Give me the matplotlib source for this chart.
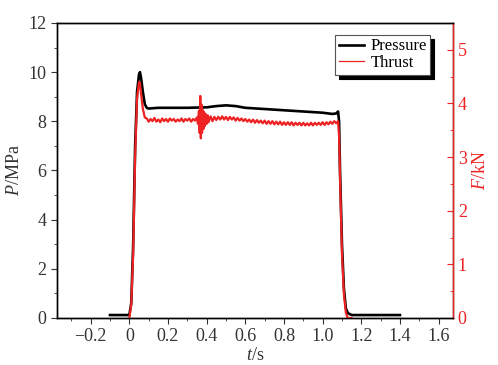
import numpy as np
import matplotlib
matplotlib.use('Agg')
import matplotlib.pyplot as plt

plt.rcParams['font.family'] = 'Liberation Serif'
plt.rcParams['mathtext.fontset'] = 'custom'
plt.rcParams['mathtext.rm'] = 'Liberation Serif'
plt.rcParams['mathtext.it'] = 'Liberation Serif:italic'

# chamber pressure, MPa
t_p = [-0.1, 0.0, 0.01, 0.02, 0.03, 0.04, 0.05, 0.055, 0.06, 0.07, 0.08, 0.09, 0.1,
       0.15, 0.2, 0.3, 0.4, 0.45, 0.5, 0.55, 0.6, 0.7, 0.8, 0.9, 1.0, 1.05, 1.07,
       1.08, 1.085, 1.09, 1.1, 1.11, 1.12, 1.13, 1.15, 1.4]
pressure = [0.12, 0.12, 0.6, 3.0, 7.0, 9.2, 9.9, 10.0, 9.8, 9.2, 8.7, 8.55, 8.52,
            8.55, 8.55, 8.55, 8.57, 8.62, 8.65, 8.62, 8.55, 8.5, 8.45, 8.4, 8.35, 8.3, 8.32,
            8.4, 8.0, 6.0, 3.0, 1.2, 0.4, 0.2, 0.12, 0.12]

# thrust, kN
t_f = [0.0, 0.01, 0.02, 0.03, 0.04, 0.05, 0.055, 0.06, 0.07, 0.08,
       0.09, 0.10, 0.11, 0.12, 0.13, 0.14, 0.15, 0.16, 0.17, 0.18, 0.19, 0.20,
       0.21, 0.22, 0.23, 0.24, 0.25, 0.26, 0.27, 0.28, 0.29, 0.30, 0.31, 0.32, 0.33,
       0.34, 0.35, 0.355, 0.36, 0.364, 0.367, 0.370, 0.373, 0.376, 0.379, 0.383, 0.387,
       0.391, 0.395, 0.40, 0.405, 0.41, 0.42, 0.43, 0.44, 0.45, 0.46, 0.47, 0.48, 0.49, 0.50,
       0.51, 0.52, 0.53, 0.54, 0.55, 0.56, 0.57, 0.58, 0.59, 0.60, 0.61, 0.62,
       0.63, 0.64, 0.65, 0.66, 0.67, 0.68, 0.69, 0.70, 0.71, 0.72, 0.73, 0.74,
       0.75, 0.76, 0.77, 0.78, 0.79, 0.80, 0.81, 0.82, 0.83, 0.84, 0.85, 0.86,
       0.87, 0.88, 0.89, 0.90, 0.91, 0.92, 0.93, 0.94, 0.95, 0.96, 0.97, 0.98,
       0.99, 1.00, 1.01, 1.02, 1.03, 1.04, 1.05, 1.06, 1.07, 1.08,
       1.085, 1.09, 1.10, 1.11, 1.12, 1.13, 1.15]
thrust = [0.0, 0.25, 1.2, 3.0, 4.1, 4.4, 4.38, 4.2, 3.9, 3.74,
          3.72, 3.66, 3.71, 3.67, 3.73, 3.66, 3.70, 3.65, 3.72, 3.67, 3.71, 3.66,
          3.72, 3.68, 3.71, 3.66, 3.70, 3.67, 3.72, 3.66, 3.71, 3.68, 3.72, 3.66, 3.71,
          3.68, 3.74, 3.62, 3.86, 3.45, 4.14, 3.35, 3.98, 3.45, 3.88, 3.52, 3.84,
          3.58, 3.80, 3.62, 3.78, 3.65, 3.76, 3.67, 3.75, 3.69, 3.75, 3.70, 3.76, 3.70, 3.75,
          3.69, 3.75, 3.70, 3.74, 3.68, 3.73, 3.68, 3.72, 3.67, 3.71, 3.66, 3.70,
          3.65, 3.70, 3.64, 3.69, 3.64, 3.68, 3.63, 3.68, 3.62, 3.67, 3.62, 3.67,
          3.61, 3.66, 3.61, 3.66, 3.60, 3.65, 3.60, 3.65, 3.60, 3.65, 3.59, 3.64,
          3.60, 3.64, 3.59, 3.64, 3.59, 3.63, 3.59, 3.64, 3.59, 3.64, 3.60, 3.64,
          3.60, 3.65, 3.60, 3.65, 3.61, 3.66, 3.62, 3.67, 3.63, 3.67,
          3.4, 2.6, 1.2, 0.45, 0.1, 0.0, 0.0]

fig = plt.figure(figsize=(4.98, 3.65), dpi=100)
ax = fig.add_axes([0.1145, 0.1288, 0.795, 0.8082])
ax2 = ax.twinx()

l1, = ax.plot(t_p, pressure, color='black', lw=1.9, label='Pressure')
l2, = ax2.plot(t_f, thrust, color='#ee2222', lw=1.6, label='Thrust')

ax.set_xlim(-0.374, 1.674)
ax.set_ylim(0, 12)
ax2.set_ylim(0, 5.5)

ax.set_xticks(np.arange(-0.2, 1.61, 0.2))
ax.set_xticks(np.arange(-0.3, 1.61, 0.1), minor=True)
ax.set_xticklabels(['\u22120.2', '0', '0.2', '0.4', '0.6', '0.8', '1.0', '1.2', '1.4', '1.6'])
ax.set_yticks(np.arange(0, 12.1, 2))
ax.set_yticks(np.arange(1, 12, 2), minor=True)
ax2.set_yticks(np.arange(0, 5.1, 1))
ax2.set_yticks(np.arange(0.5, 5.5, 1), minor=True)

ax.tick_params(which='both', direction='out', labelsize=13, colors='#333333', labelcolor='#333333')
ax.tick_params(which='major', length=4)
ax.tick_params(which='minor', length=2.5)
ax2.tick_params(which='both', direction='in', colors='#ee2222', labelsize=13)
ax2.tick_params(which='major', length=4)
ax2.tick_params(which='minor', length=2.5)
ax2.spines['right'].set_color('#ee2222')
for a in (ax, ax2):
    for s in a.spines.values():
        s.set_linewidth(1.0)

ax.set_xlabel(r'$t$/s', fontsize=13, color='#333333', labelpad=1)
ax.set_ylabel(r'$P$/MPa', fontsize=13, color='#333333', labelpad=4)
ax2.set_ylabel(r'$F$/kN', fontsize=13, color='#ee2222', labelpad=4)

leg = ax2.legend([l1, l2], ['Pressure', 'Thrust'], loc='upper right',
                 bbox_to_anchor=(0.942, 0.959), borderaxespad=0, fontsize=12,
                 fancybox=False, edgecolor='#555555', framealpha=1,
                 handlelength=1.5, handletextpad=0.4, borderpad=0.2, labelspacing=0.05,
                 shadow={'ox': 3, 'oy': -3, 'facecolor': 'black', 'edgecolor': 'black', 'alpha': 1})
leg.get_lines()[1].set_linewidth(0.9)
leg.get_frame().set_linewidth(0.8)

fig.savefig('out.png', dpi=100)
